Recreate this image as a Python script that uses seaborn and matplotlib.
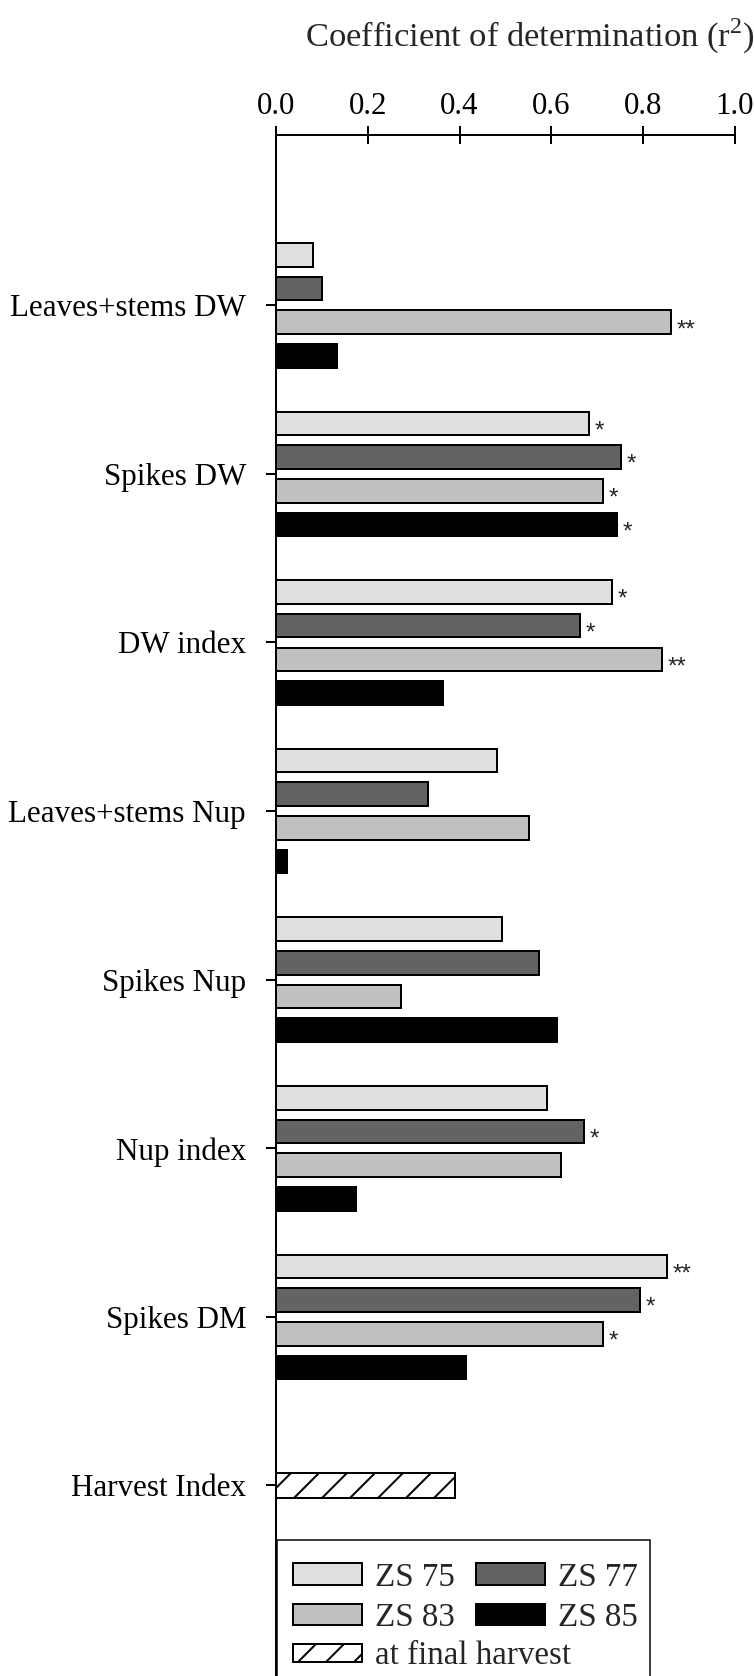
import matplotlib
matplotlib.use('Agg')
import matplotlib.pyplot as plt
from matplotlib.patches import Patch, Rectangle
import pandas as pd
import seaborn as sns

# data
traits = ['Leaves+stems DW', 'Spikes DW', 'DW index', 'Leaves+stems Nup',
          'Spikes Nup', 'Nup index', 'Spikes DM']
stages = ['ZS 75', 'ZS 77', 'ZS 83', 'ZS 85']
zs75 = [0.081, 0.682, 0.731, 0.481, 0.492, 0.591, 0.851]
zs77 = [0.100, 0.751, 0.662, 0.332, 0.572, 0.671, 0.792]
zs83 = [0.860, 0.712, 0.841, 0.552, 0.272, 0.622, 0.712]
zs85 = [0.133, 0.742, 0.363, 0.023, 0.613, 0.174, 0.413]
sig75 = ['', '*', '*', '', '', '', '**']
sig77 = ['', '*', '*', '', '', '*', '*']
sig83 = ['**', '*', '**', '', '', '', '*']
sig85 = ['', '*', '', '', '', '', '']
harvest_label = 'Harvest Index'
harvest_r2 = 0.39
colors = ['#e0e0e0', '#636363', '#c0c0c0', '#000000']
xticks = [0.0, 0.2, 0.4, 0.6, 0.8, 1.0]

DPI = 168
W, H = 755, 1676


def px(v):
    # pixels -> points
    return v * 72 / DPI


sns.set_style('white')
plt.rcParams['font.family'] = ['Liberation Serif', 'DejaVu Serif']
plt.rcParams['mathtext.fontset'] = 'custom'
plt.rcParams['mathtext.rm'] = 'Liberation Serif'
plt.rcParams['hatch.linewidth'] = px(2)

df = pd.DataFrame({
    'trait': traits * 4,
    'stage': [s for s in stages for _ in traits],
    'r2': zs75 + zs77 + zs83 + zs85,
})
order = traits + [harvest_label]

fig = plt.figure(figsize=(W / DPI, H / DPI), dpi=DPI)
ax = fig.add_axes([276 / W, 0, 459 / W, (H - 135) / H])

sns.barplot(data=df, x='r2', y='trait', hue='stage', order=order, hue_order=stages,
            palette=colors, saturation=1, orient='h', width=0.8, gap=0.3,
            edgecolor='black', linewidth=px(2), legend=False, ax=ax)
sns.barplot(x=[harvest_r2], y=[harvest_label], order=order, orient='h', color='white',
            saturation=1, width=0.15, edgecolor='black', linewidth=px(2), hatch='//', ax=ax)

# significance stars
sig = dict(zip(stages, [sig75, sig77, sig83, sig85]))
for stage, cont in zip(stages, ax.containers[:4]):
    for bar in cont:
        yc = bar.get_y() + bar.get_height() / 2
        mark = sig[stage][int(round(yc))]
        if mark:
            ax.annotate(mark, (bar.get_width(), yc), xytext=(px(6), -px(14)),
                        textcoords='offset points', ha='left', va='baseline',
                        fontsize=px(24), family='Liberation Sans')

ax.set_xlim(0, 1)
ax.set_ylim(8.13, -1.01)
ax.xaxis.tick_top()
ax.set_xticks(xticks)
ax.set_xticklabels([f'{t:.1f}' for t in xticks])
ax.set_xlabel('')
ax.set_ylabel('')
ax.tick_params(axis='x', direction='inout', length=px(18), width=px(2),
               labelsize=px(31), pad=px(5), colors='black')
ax.tick_params(axis='y', direction='out', length=px(10), width=px(2),
               labelsize=px(31), pad=px(20), colors='black', left=True)
for side in ['right', 'bottom']:
    ax.spines[side].set_visible(False)
for side in ['top', 'left']:
    ax.spines[side].set_linewidth(px(2))
    ax.spines[side].set_color('black')

fig.text(530 / W, 1 - 36 / H, 'Coefficient of determination (r$^2$)',
         ha='center', va='center', fontsize=px(34.5))

# legend box (bottom runs off the figure)
fig.add_artist(Rectangle((277 / W, -0.02), (650 - 277) / W, (H - 1540) / H + 0.02,
                         transform=fig.transFigure, facecolor='white',
                         edgecolor='black', linewidth=px(1.5), zorder=4))
h = [Patch(facecolor=c, edgecolor='black', linewidth=px(2), label=s)
     for s, c in zip(stages, colors)]
fig.legend(handles=[h[0], h[2], h[1], h[3]], ncol=2, loc='upper left',
           bbox_to_anchor=(293 / W, 1 - 1562 / H), frameon=False, fontsize=px(33),
           handlelength=2.1, handleheight=0.62, handletextpad=0.4,
           columnspacing=0.62, labelspacing=0.3, borderpad=0, borderaxespad=0)
hh = Patch(facecolor='white', edgecolor='black', linewidth=px(2), hatch='//',
           label='at final harvest')
fig.legend(handles=[hh], loc='upper left', bbox_to_anchor=(293 / W, 1 - 1641 / H),
           frameon=False, fontsize=px(33), handlelength=2.1, handleheight=0.45,
           handletextpad=0.4, borderpad=0, borderaxespad=0)

fig.savefig('out.png', dpi=DPI, facecolor='white')
